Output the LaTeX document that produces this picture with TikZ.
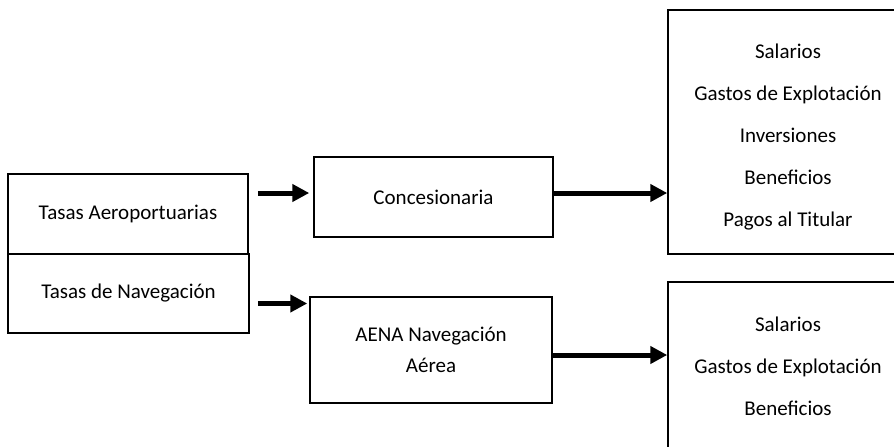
\documentclass[tikz,border=0pt]{standalone}
\usepackage{fontspec}
\setmainfont{Carlito}
\usetikzlibrary{arrows.meta}
\tikzset{
  box/.style={draw=black, line width=1.5pt, rectangle, inner sep=0pt, align=center,
    font=\fontsize{21}{42}\selectfont},
  lbl/.style={inner sep=0pt, align=center, font=\fontsize{21}{41.8}\selectfont},
  arr/.style={line width=5pt, -{Triangle[length=17pt,width=17pt]}},
}
\begin{document}
\begin{tikzpicture}[x=1pt,y=-1pt]
\clip (0,0) rectangle (894,447);
\fill[white] (0,0) rectangle (894,447);
\node[box, minimum width=240pt, minimum height=80pt] (tasA) at (128,214) {\raisebox{-2pt}{Tasas Aeroportuarias}};
\node[box, minimum width=241pt, minimum height=79pt] (tasN) at (128.5,293.5) {\raisebox{-2pt}{Tasas de Navegación}};
\node[box, minimum width=239pt, minimum height=80pt] (conc) at (433.5,197) {Concesionaria};
\node[box, minimum width=242pt, minimum height=106pt, font=\fontsize{21}{31}\selectfont] (aena) at (431,350) {AENA Navegación\\Aérea};
\node[box, minimum width=240pt, minimum height=244pt] (out1) at (788,132) {};
\node[lbl] (out1t) at (788,137) {Salarios\\Gastos de Explotación\\Inversiones\\Beneficios\\Pagos al Titular};
\node[box, minimum width=240pt, minimum height=172pt] (out2) at (788,368) {};
\node[lbl] (out2t) at (788,366) {Salarios\\Gastos de Explotación\\Beneficios};
\draw[arr, shorten <=9pt, shorten >=4pt] ([yshift=4pt]tasA.east |- conc.west) -- ([yshift=4pt]conc.west);
\draw[arr] ([yshift=4pt]conc.east) -- ([yshift=4pt]conc.east -| out1.west);
\draw[arr, shorten <=8pt, shorten >=2pt] ([yshift=-10pt]tasN.east) -- ([yshift=-10pt]tasN.east -| aena.west);
\draw[arr] ([yshift=-5pt]aena.east) -- ([yshift=-5pt]aena.east -| out2.west);
\end{tikzpicture}
\end{document}
